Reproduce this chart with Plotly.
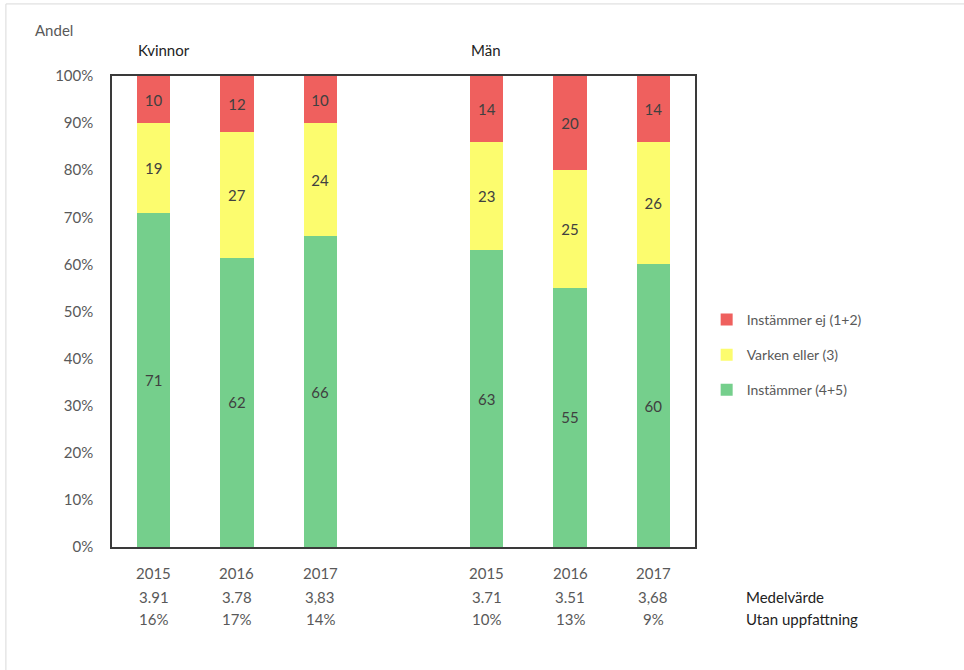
import plotly.graph_objects as go

# Survey data: share of answers per group and year
positions = [0, 1, 2, 4, 5, 6]
years = ["2015", "2016", "2017", "2015", "2016", "2017"]
medel = ["3.91", "3.78", "3,83", "3.71", "3.51", "3,68"]
utan = ["16%", "17%", "14%", "10%", "13%", "9%"]

instammer = [71, 62, 66, 63, 55, 60]
varken = [19, 27, 24, 23, 25, 26]
instammer_ej = [10, 12, 10, 14, 20, 14]

groups = ["Kvinnor", "Män"]
group_start = [0, 4]

series = [
    ("Instämmer (4+5)", instammer, "#75CF8C", 3),
    ("Varken eller (3)", varken, "#FCFC6E", 2),
    ("Instämmer ej (1+2)", instammer_ej, "#EF605E", 1),
]

FONT = "Lato"
GREY = "#595959"

fig = go.Figure()
for name, vals, color, rank in series:
    fig.add_trace(go.Bar(
        x=positions, y=vals, name=name, legendgroup=name, legendrank=rank,
        marker=dict(color=color, line=dict(width=0)),
        width=0.4,
        text=[str(v) for v in vals],
        textposition="inside", insidetextanchor="middle", textangle=0,
        textfont=dict(family=FONT, size=15, color="#404040"),
        hoverinfo="skip",
    ))

fig.update_layout(
    barmode="stack",
    barnorm="percent",
    width=964, height=670,
    margin=dict(l=112, r=269, t=76, b=123),
    plot_bgcolor="white", paper_bgcolor="white",
    font=dict(family=FONT, size=15, color=GREY),
    showlegend=True,
    legend=dict(
        x=1.02, xanchor="left", y=0.408, yanchor="middle",
        traceorder="grouped", tracegroupgap=14,
        font=dict(family=FONT, size=14, color=GREY),
        itemwidth=30,
    ),
)

fig.update_xaxes(
    range=[-0.5, 6.5], showticklabels=False, ticks="",
    showgrid=False, zeroline=False,
    showline=True, mirror=True, linecolor="#3a3a3a", linewidth=1.5,
)
fig.update_yaxes(
    range=[0, 100], dtick=10, ticksuffix="%", ticks="",
    ticklabelstandoff=14,
    tickfont=dict(family=FONT, size=15, color=GREY),
    showgrid=False, zeroline=False,
    showline=True, mirror=True, linecolor="#3a3a3a", linewidth=1.5,
)

# category rows under the axis
for row, yv in [(years, -0.055), (medel, -0.106), (utan, -0.153)]:
    for p, t in zip(positions, row):
        fig.add_annotation(x=p, y=yv, xref="x", yref="paper", text=t,
                           showarrow=False, xanchor="center", yanchor="middle",
                           font=dict(family=FONT, size=15, color=GREY))

fig.add_annotation(x=1.084, y=-0.106, xref="paper", yref="paper", text="Medelvärde",
                   showarrow=False, xanchor="left", yanchor="middle",
                   font=dict(family=FONT, size=15, color="#222222"))
fig.add_annotation(x=1.084, y=-0.153, xref="paper", yref="paper", text="Utan uppfattning",
                   showarrow=False, xanchor="left", yanchor="middle",
                   font=dict(family=FONT, size=15, color="#222222"))

# group headers
for g, s in zip(groups, group_start):
    fig.add_annotation(x=s - 0.21, y=1.055, xref="x", yref="paper", text=g,
                       showarrow=False, xanchor="left", yanchor="middle",
                       font=dict(family=FONT, size=15, color="#222222"))

fig.add_annotation(x=-0.136, y=1.098, xref="paper", yref="paper", text="Andel",
                   showarrow=False, xanchor="left", yanchor="middle",
                   font=dict(family=FONT, size=15, color=GREY))

# outer frame (left and top edge of the cropped chart area)
fig.add_shape(type="line", xref="paper", yref="paper", x0=-0.182, x1=-0.182, y0=-0.27, y1=1.153,
              line=dict(color="#d9d9d9", width=1))
fig.add_shape(type="line", xref="paper", yref="paper", x0=-0.182, x1=1.47, y0=1.153, y1=1.153,
              line=dict(color="#d9d9d9", width=1))

# drop the default page margin so the figure sits at the window's corner
fig.write_html("out.html", config={"displayModeBar": False},
               post_script="document.body.style.margin='0';")
